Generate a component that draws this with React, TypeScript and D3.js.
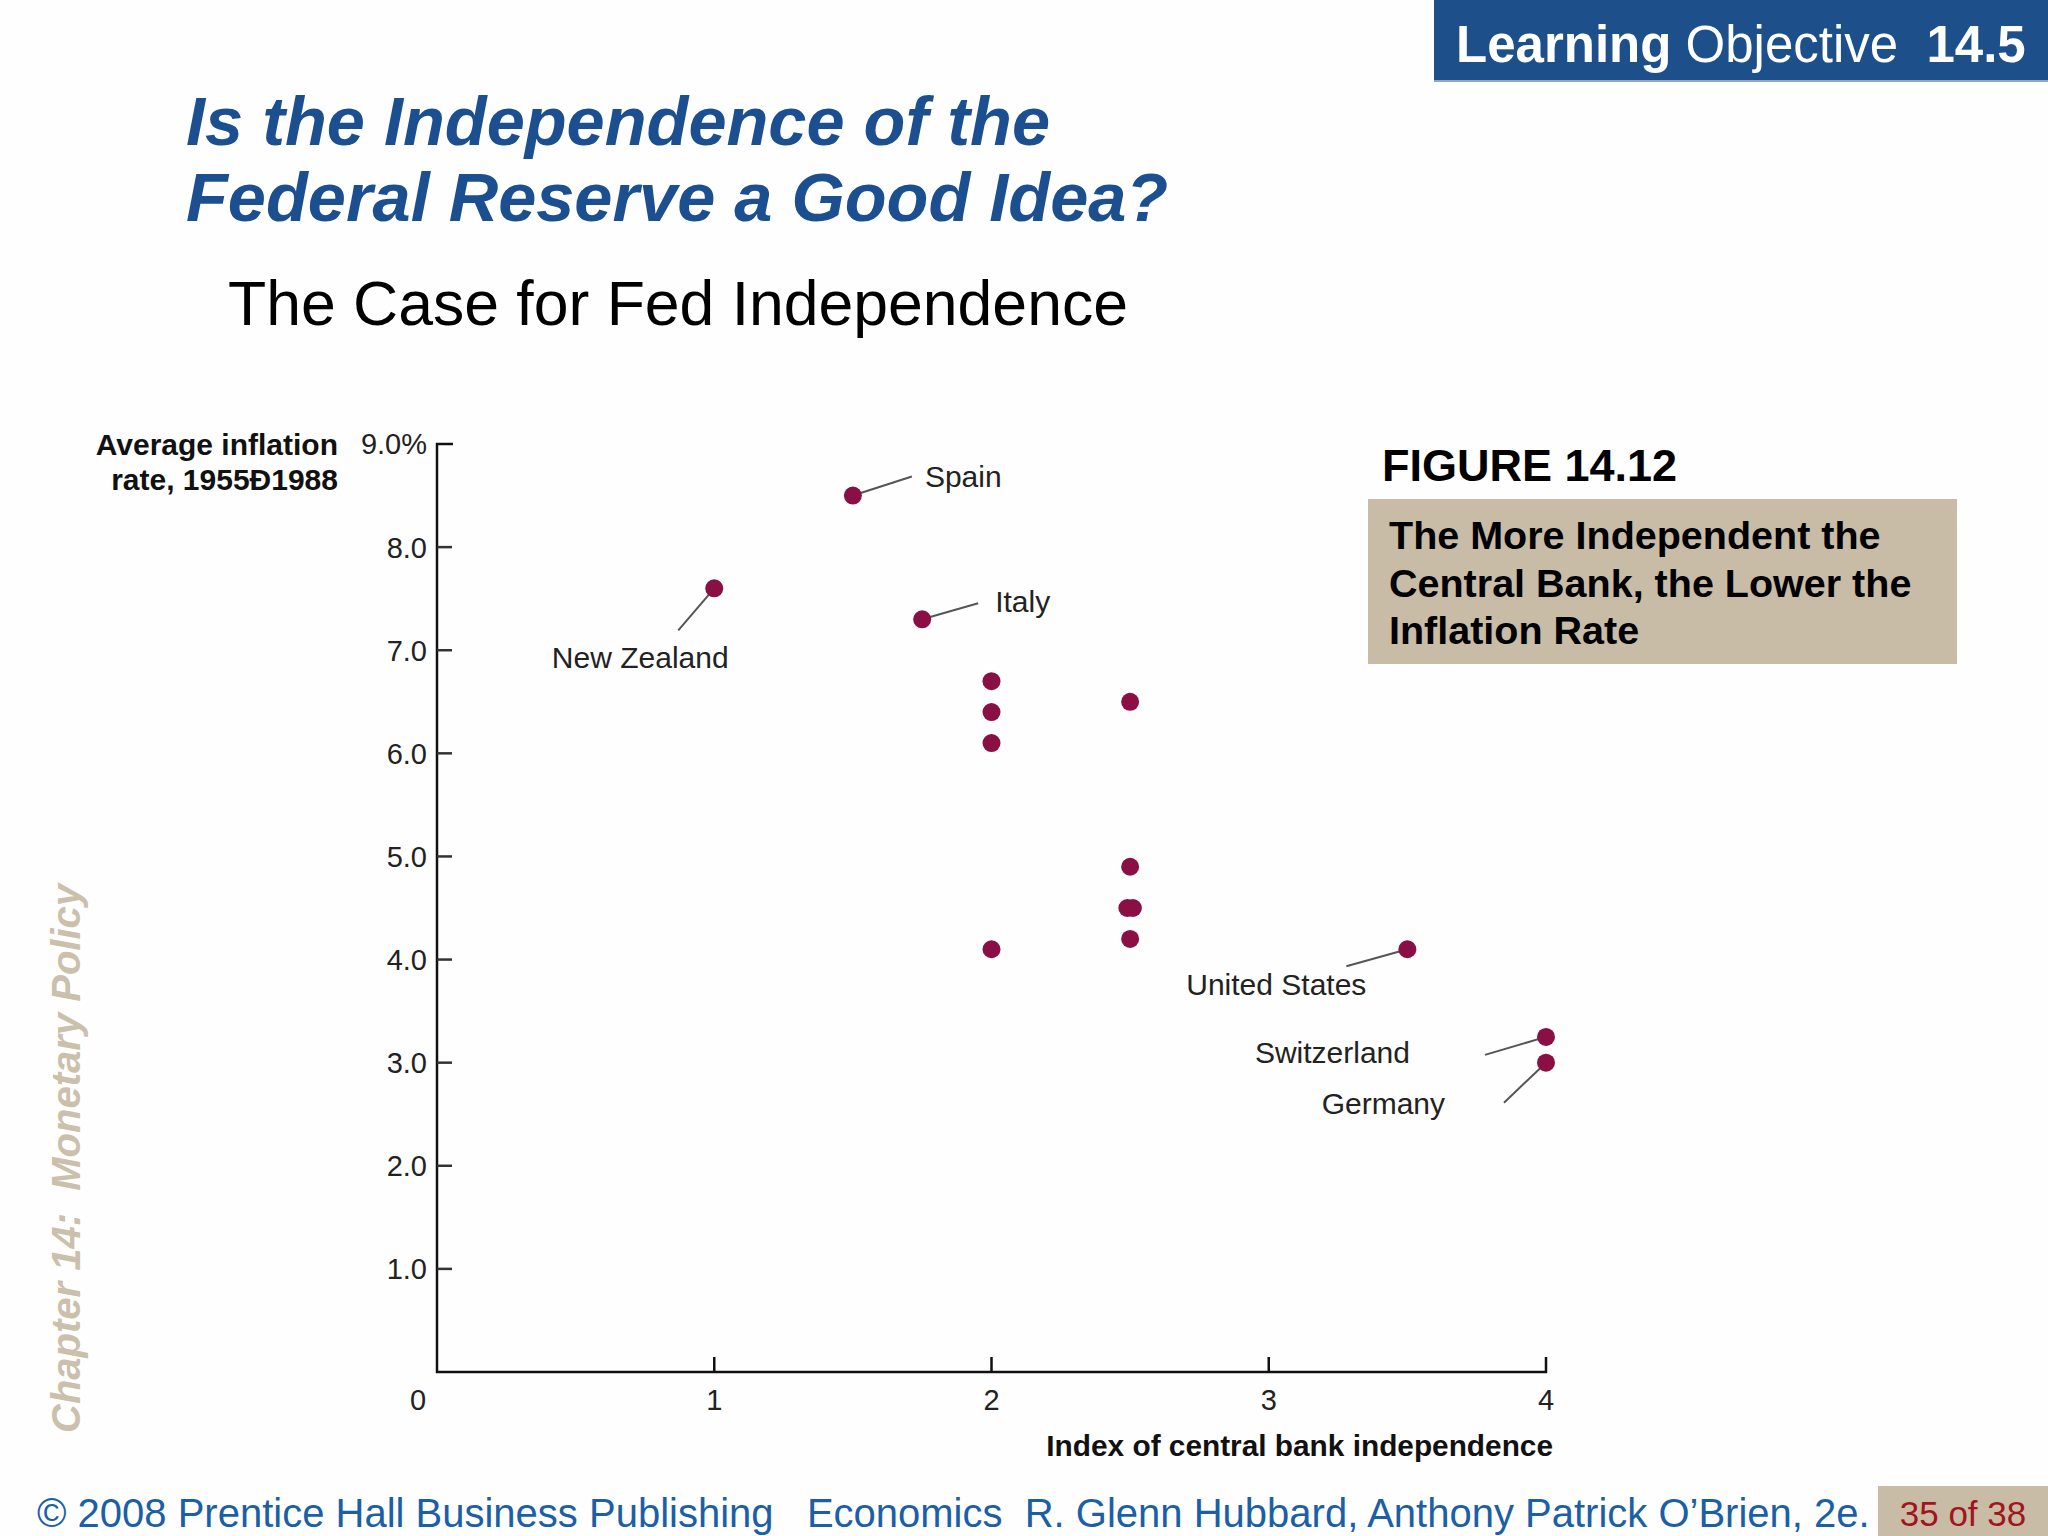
import React from "react";
import * as d3 from "d3";

// ---- data ----
const countries = ["Spain", "Italy", "New Zealand", "United States", "Switzerland", "Germany", "", "", "", "", "", "", "", "", ""];
const independenceIndex = [1.5, 1.75, 1.0, 3.5, 4.0, 4.0, 2.0, 2.0, 2.0, 2.0, 2.5, 2.5, 2.49, 2.51, 2.5];
const inflationRate = [8.5, 7.3, 7.6, 4.1, 3.25, 3.0, 6.7, 6.4, 6.1, 4.1, 6.5, 4.9, 4.5, 4.5, 4.2];
const yTickValues = [1, 2, 3, 4, 5, 6, 7, 8, 9];
const yTickLabels = ["1.0", "2.0", "3.0", "4.0", "5.0", "6.0", "7.0", "8.0", "9.0%"];
const xTickValues = [1, 2, 3, 4];
const xTickLabels = ["1", "2", "3", "4"];
const titleLines = ["Is the Independence of the", "Federal Reserve a Good Idea?"];
const captionLines = ["The More Independent the", "Central Bank, the Lower the", "Inflation Rate"];

// label placement (pixel offsets from the point: leader end, text anchor)
const labelLayout: Record<string, { lx: number; ly: number; tx: number; ty: number; anchor: string }> = {
  "Spain": { lx: 59, ly: -19, tx: 72, ty: -9, anchor: "start" },
  "Italy": { lx: 56, ly: -16, tx: 73, ty: -7, anchor: "start" },
  "New Zealand": { lx: -36, ly: 42, tx: -74, ty: 80, anchor: "middle" },
  "United States": { lx: -61, ly: 17, tx: -41, ty: 46, anchor: "end" },
  "Switzerland": { lx: -61, ly: 18, tx: -136, ty: 26, anchor: "end" },
  "Germany": { lx: -42, ly: 40, tx: -101, ty: 51, anchor: "end" },
};

const FONT = "'Liberation Sans', Arial, Helvetica, sans-serif";
const PRE: React.CSSProperties = { whiteSpace: "pre" };

export default function App() {
  const W = 2048, H = 1536;
  const x = d3.scaleLinear().domain([0, 4]).range([437, 1546]);
  const y = d3.scaleLinear().domain([0, 9]).range([1372, 444]);
  const dotColor = "#8a0f45";
  const points = independenceIndex.map((v, i) => ({ x: v, y: inflationRate[i], name: countries[i] }));

  return (
    <svg
      width={W}
      height={H}
      viewBox={`0 0 ${W} ${H}`}
      style={{ position: "absolute", left: 0, top: 0, display: "block", background: "#fefefe" }}
      fontFamily={FONT}
    >
      <rect x={0} y={0} width={W} height={H} fill="#fefefe" />

      {/* Learning objective box */}
      <rect x={1434} y={0} width={614} height={81} fill="#1d4f8b" />
      <line x1={1434} x2={2048} y1={81} y2={81} stroke="#8ea6c6" strokeWidth={2} />
      <text x={1456} y={62} fill="#ffffff" fontSize={51} style={PRE}>
        <tspan fontWeight="bold">Learning</tspan>
        <tspan>{" Objective  "}</tspan>
        <tspan fontWeight="bold">14.5</tspan>
      </text>

      {/* Title */}
      {titleLines.map((t, i) => (
        <text key={i} x={186} y={145 + i * 76} fill="#1c4f8f" fontSize={68.5} fontWeight="bold" fontStyle="italic">
          {t}
        </text>
      ))}
      <text x={228} y={325} fill="#000" fontSize={62.5}>The Case for Fed Independence</text>

      {/* Figure caption */}
      <text x={1382} y={481} fill="#000" fontSize={45} fontWeight="bold">FIGURE 14.12</text>
      <rect x={1368} y={499} width={589} height={165} fill="#c8bca7" />
      {captionLines.map((t, i) => (
        <text key={i} x={1389} y={549 + i * 47.5} fill="#000" fontSize={39.5} fontWeight="bold">{t}</text>
      ))}

      {/* Side chapter text */}
      <text
        transform="translate(80,1433) rotate(-90)"
        fill="#cbc0ab"
        fontSize={40}
        fontWeight="bold"
        fontStyle="italic"
        style={PRE}
      >
        {"Chapter 14:  Monetary Policy"}
      </text>

      {/* Axes */}
      <path
        d={`M${x(0) + 16},${y(9)} H${x(0)} V${y(0)} H${x(4)} V${y(0) - 15}`}
        fill="none"
        stroke="#111"
        strokeWidth={2.5}
      />
      {yTickValues.map((v, i) => (
        <g key={"yt" + v}>
          {v < 9 && <line x1={x(0)} x2={x(0) + 15} y1={y(v)} y2={y(v)} stroke="#333" strokeWidth={2.5} />}
          <text x={427} y={y(v)} dy="0.36em" textAnchor="end" fontSize={29} fill="#222">
            {yTickLabels[i]}
          </text>
        </g>
      ))}
      {xTickValues.map((v, i) => (
        <g key={"xt" + v}>
          {v < 4 && <line x1={x(v)} x2={x(v)} y1={y(0)} y2={y(0) - 15} stroke="#111" strokeWidth={2.5} />}
          <text x={x(v)} y={1410} textAnchor="middle" fontSize={29} fill="#222">{xTickLabels[i]}</text>
        </g>
      ))}
      <text x={418} y={1410} textAnchor="middle" fontSize={29} fill="#222">0</text>

      {/* Axis titles */}
      <text x={338} y={455} textAnchor="end" fontSize={30} fontWeight="bold" fill="#111">Average inflation</text>
      <text x={338} y={490} textAnchor="end" fontSize={30} fontWeight="bold" fill="#111">rate, 1955Ð1988</text>
      <text x={1553} y={1456} textAnchor="end" fontSize={29.8} fontWeight="bold" fill="#111">
        Index of central bank independence
      </text>

      {/* Leader lines + labels */}
      {points.filter((p) => p.name && labelLayout[p.name]).map((p) => {
        const L = labelLayout[p.name];
        const cx = x(p.x), cy = y(p.y);
        return (
          <g key={"lab" + p.name}>
            <line x1={cx} y1={cy} x2={cx + L.lx} y2={cy + L.ly} stroke="#555" strokeWidth={2} />
            <text x={cx + L.tx} y={cy + L.ty} textAnchor={L.anchor as any} fontSize={30} fill="#222">
              {p.name}
            </text>
          </g>
        );
      })}

      {/* Points */}
      {points.map((p, i) => (
        <circle key={"pt" + i} cx={x(p.x)} cy={y(p.y)} r={9} fill={dotColor} />
      ))}

      {/* Footer */}
      <text x={37} y={1527} fill="#1b5fa6" fontSize={40} style={PRE}>
        {"© 2008 Prentice Hall Business Publishing   Economics  R. Glenn Hubbard, Anthony Patrick O’Brien, 2e."}
      </text>
      <rect x={1878} y={1486} width={170} height={50} fill="#c8bca7" />
      <text x={1963} y={1526} textAnchor="middle" fill="#a3141c" fontSize={35}>35 of 38</text>
    </svg>
  );
}
